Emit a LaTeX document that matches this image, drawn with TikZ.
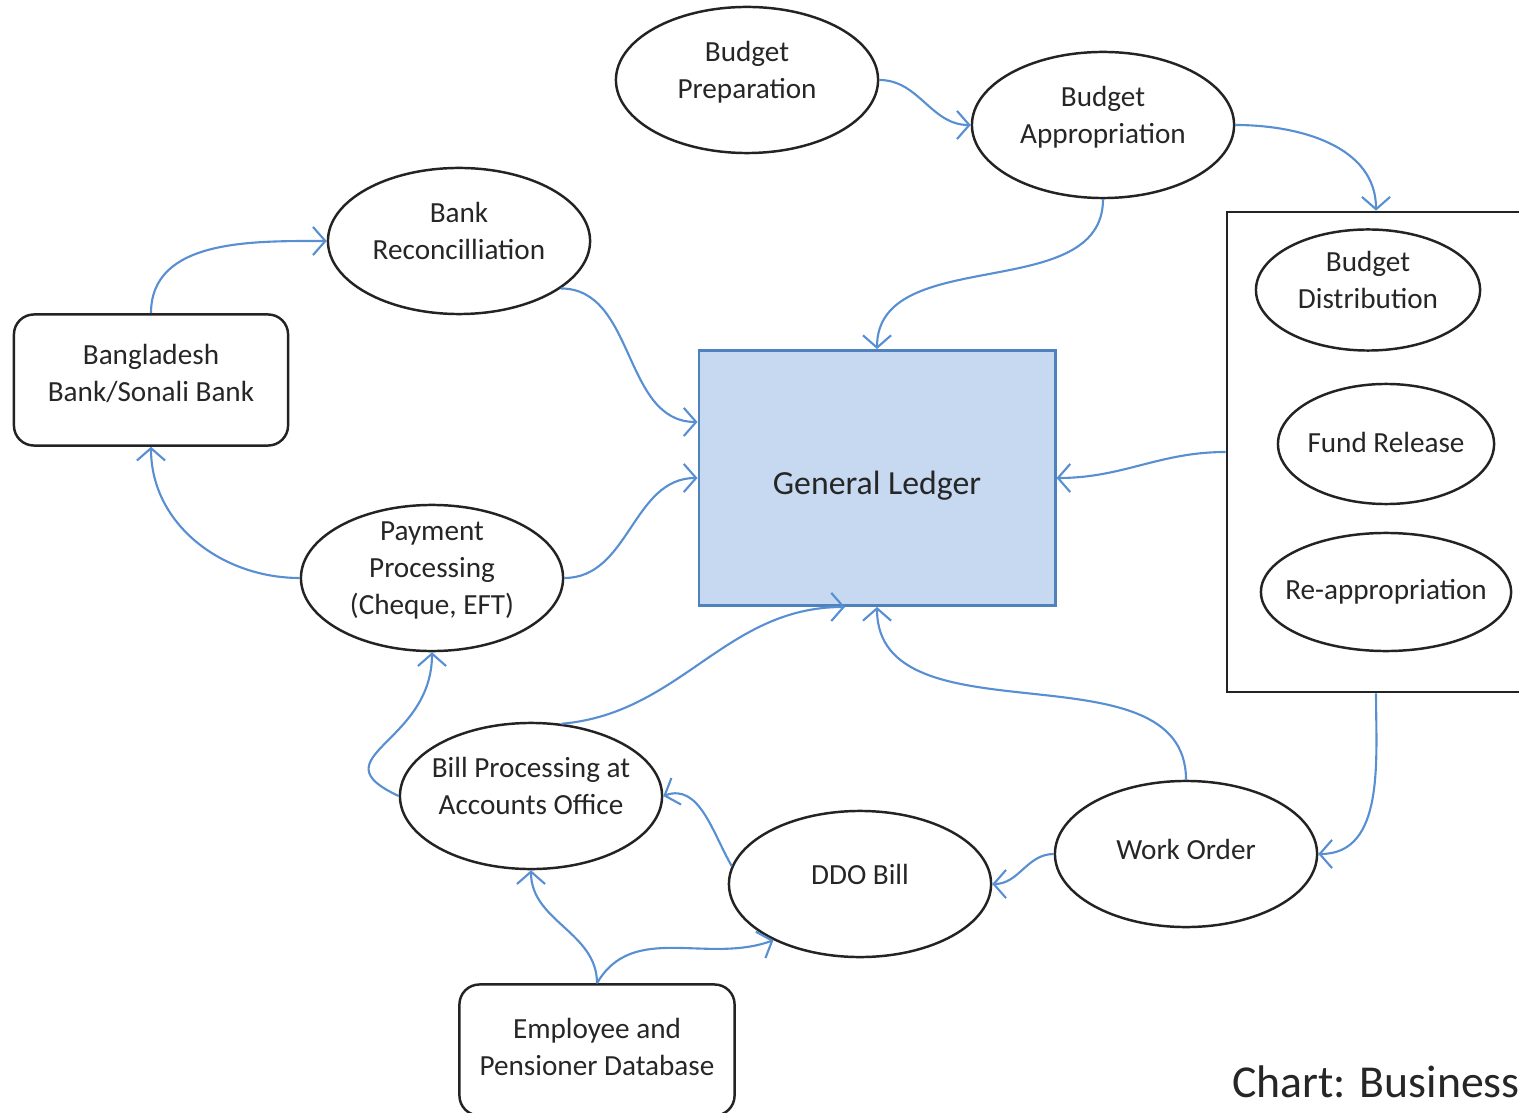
\documentclass[tikz,border=0pt]{standalone}
\usepackage{fontspec}
\setmainfont{Carlito}
\usetikzlibrary{shapes.geometric,arrows.meta}
\definecolor{linkblue}{RGB}{88,142,210}
\definecolor{ledgerfill}{RGB}{198,217,241}
\definecolor{ledgerdraw}{RGB}{79,129,189}
\definecolor{edgegray}{RGB}{35,35,35}
\begin{document}
\begin{tikzpicture}
  [x=0.01cm,y=-0.01cm,every node/.style={font=\fontsize{8.3}{10.5}\selectfont,align=center,text=black!85}]
  \tikzstyle{oval} = [draw=edgegray,line width=0.7pt,ellipse,inner xsep=-10pt,inner ysep=-4pt,text depth=0.2cm,minimum width=2.62cm,minimum height=1.46cm]
  \tikzstyle{box} = [draw=edgegray,line width=0.7pt,rounded corners=0.2cm,inner sep=0pt,text depth=0.15cm,minimum width=2.74cm,minimum height=1.31cm]
  \tikzstyle{link} = [draw=linkblue,line width=0.6pt,-{Straight Barb[length=3.5pt,width=8pt]}]
  \useasboundingbox (0,0) rectangle (1519,1113);
  \node[oval] (prep) at (747,80) {Budget\\Preparation};
  \node[oval] (approp) at (1103,125) {Budget\\Appropriation};
  \node[oval] (bankrec) at (459,241) {Bank\\Reconcilliation};
  \node[box] (bdbank) at (151,380) {Bangladesh\\Bank/Sonali Bank};
  \node[draw=ledgerdraw,fill=ledgerfill,line width=0.8pt,minimum width=3.56cm,minimum height=2.55cm,
    text height=0.38cm,font=\fontsize{9.6}{12}\selectfont] (gl) at (877,478) {General Ledger};
  \node[draw=edgegray,line width=0.7pt,inner sep=0pt,minimum width=2.98cm,minimum height=4.8cm] (grp) at (1376,452) {};
  \node[oval,minimum width=2.24cm,minimum height=1.21cm] (dist) at (1368,290) {Budget\\Distribution};
  \node[oval,text depth=0.03cm,minimum width=2.16cm,minimum height=1.2cm] (fund) at (1386,444) {Fund Release};
  \node[oval,text depth=0.05cm,minimum width=2.5cm,minimum height=1.18cm] (reapp) at (1386,592) {Re-appropriation};
  \node[oval] (pay) at (432,578) {Payment\\Processing\\(Cheque, EFT)};
  \node[oval] (bill) at (531,796) {Bill Processing at\\Accounts Office};
  \node[oval] (ddo) at (860,884) {DDO Bill};
  \node[oval,text depth=0.1cm] (work) at (1186,854) {Work Order};
  \node[box,text depth=0.07cm,minimum width=2.75cm,minimum height=1.31cm] (emp) at (597,1050) {Employee and\\Pensioner Database};
  \node[anchor=west,font=\fontsize{13}{15}\selectfont] (chart) at (1220,1082) {Chart: Business};
  \coordinate (glbill) at ([xshift=-0.32cm]gl.south);
  \coordinate (glbank) at ([yshift=0.56cm]gl.west);
\foreach \source/\dest/\o/\i in {prep.east/approp.west/0/180, approp.east/grp.north/0/90,
    approp.south/gl.north/-90/90, grp.west/gl.east/180/0, grp.south/work.east/-90/0,
    work.north/gl.south/90/-90, work.west/ddo.east/180/0, ddo.172/bill.east/120/20,
    bill.67/glbill/5/180, pay.west/bdbank.south/180/-90,
    pay.east/gl.west/0/180, bdbank.north/bankrec.west/90/180, bankrec.-25/glbank/0/180,
    emp.north/bill.south/90/-90, emp.north/ddo.213/60/200}
   \draw[link] (\source) to[out=\o,in=\i] (\dest);
  \draw[link] (bill.west) to[out=155,in=-90,looseness=1.6] (pay.south);
\end{tikzpicture}
\end{document}
